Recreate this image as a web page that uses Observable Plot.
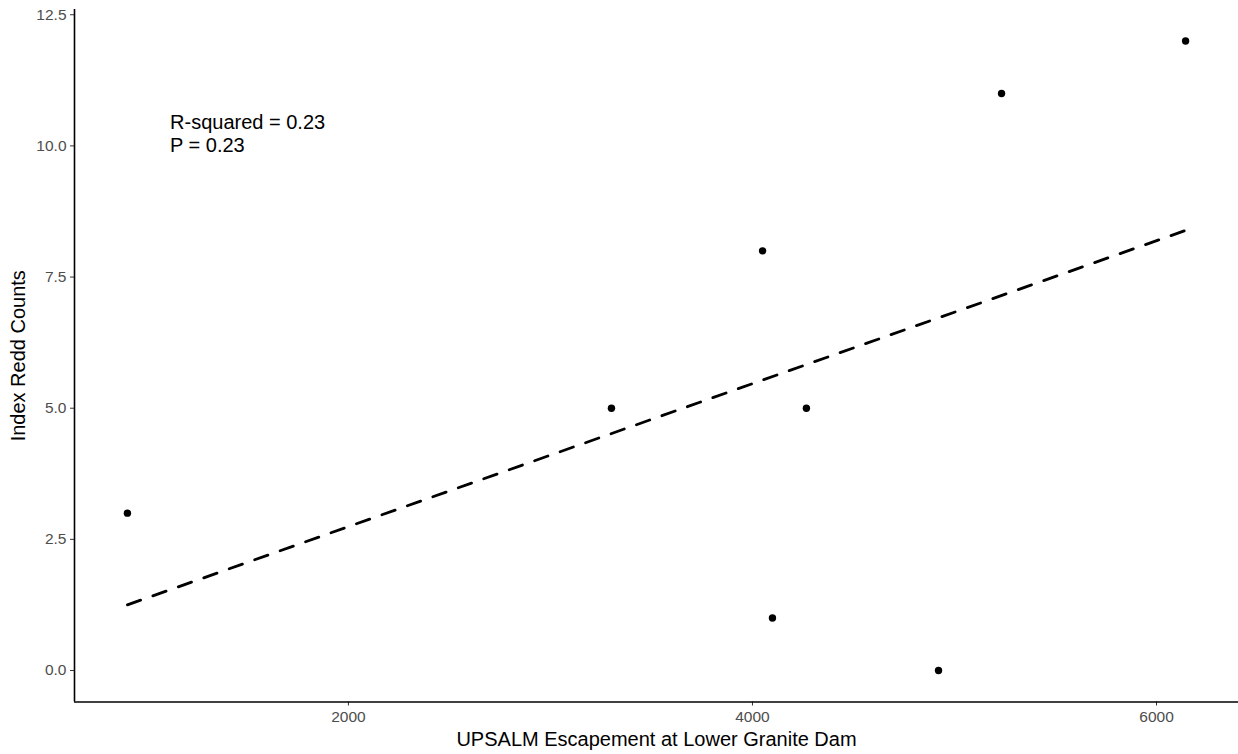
<!DOCTYPE html>
<html>
<head>
<meta charset="utf-8">
<script src="https://cdn.jsdelivr.net/npm/d3@7"></script>
<script src="https://cdn.jsdelivr.net/npm/@observablehq/plot@0.6"></script>
<style>
  html, body { margin: 0; padding: 0; background: #fff; }
  #chart svg { display: block; }
</style>
</head>
<body>
<div id="chart"></div>
<script>
// Data
const escapement = [906, 3302, 4050, 4099, 4267, 4921, 5233, 6144];
const reddCounts = [3, 5, 8, 1, 5, 0, 11, 12];
const xTicks = [2000, 4000, 6000];
const yTicks = [0, 2.5, 5, 7.5, 10, 12.5];
const xTitle = "UPSALM Escapement at Lower Granite Dam";
const yTitle = "Index Redd Counts";
const annotationLines = ["R-squared = 0.23", "P = 0.23"];
const annotationPos = {x: 1117, y: 10.64};

const data = escapement.map((x, i) => ({x, y: reddCounts[i]}));

// ggplot-style 5% expansion of the data range
function expand(ext) { const d = (ext[1] - ext[0]) * 0.05; return [ext[0] - d, ext[1] + d]; }
const xDomain = expand(d3.extent(escapement));
const yDomain = expand(d3.extent(reddCounts));

const chart = Plot.plot({
  width: 1238,
  height: 754,
  marginLeft: 74,
  marginRight: 0,
  marginTop: 9,
  marginBottom: 52.5,
  style: {fontFamily: "'Liberation Sans', Arial, sans-serif", background: "#fff"},
  x: {domain: xDomain},
  y: {domain: yDomain},
  marks: [
    Plot.axisX({ticks: xTicks, tickSize: 4, tickPadding: 5, fontSize: 15.5, stroke: "#333", fill: "#4D4D4D", label: null, tickFormat: d3.format("d")}),
    Plot.axisY({ticks: yTicks, tickSize: 4, tickPadding: 4, fontSize: 15.5, stroke: "#333", fill: "#4D4D4D", label: null, tickFormat: d3.format(".1f")}),
    Plot.ruleX([xDomain[0]], {stroke: "black", strokeWidth: 1.6}),
    Plot.ruleY([yDomain[0]], {stroke: "black", strokeWidth: 1.6}),
    Plot.linearRegressionY(data, {x: "x", y: "y", stroke: "black", strokeWidth: 2.8, strokeDasharray: "14,13", ci: 0}),
    Plot.dot(data, {x: "x", y: "y", r: 3.7, fill: "black", stroke: "none"}),
    Plot.text([annotationLines.join("\n")], {x: annotationPos.x, y: annotationPos.y, textAnchor: "start", lineAnchor: "top", fontSize: 20, lineHeight: 1.15, fill: "black"}),
    Plot.text([xTitle], {frameAnchor: "bottom", textAnchor: "middle", lineAnchor: "middle", dy: 38, fontSize: 20, fill: "black"}),
    Plot.text([yTitle], {frameAnchor: "left", rotate: -90, textAnchor: "middle", lineAnchor: "middle", dx: -56, fontSize: 20, fill: "black"})
  ]
});
document.getElementById("chart").appendChild(chart);
</script>
</body>
</html>
